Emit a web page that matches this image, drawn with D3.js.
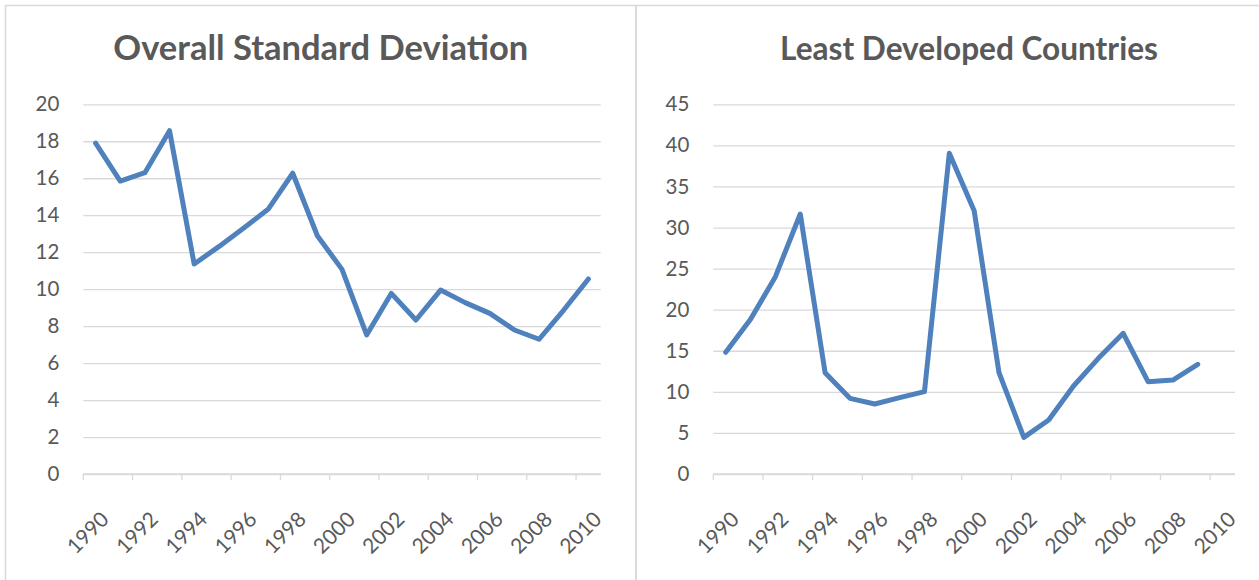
<!DOCTYPE html>
<html>
<head>
<meta charset="utf-8">
<script src="https://cdn.jsdelivr.net/npm/d3@7"></script>
<style>
  html, body { margin: 0; padding: 0; background: #ffffff; }
  svg { display: block; }
  text { font-family: Lato, "Open Sans", sans-serif; fill: #595959; }
</style>
</head>
<body>
<svg id="chart" width="1259" height="580"></svg>
<script>
// ---- data ----
const years = ["1990","1991","1992","1993","1994","1995","1996","1997","1998","1999","2000",
               "2001","2002","2003","2004","2005","2006","2007","2008","2009","2010"];
const yearLabels = ["1990","1992","1994","1996","1998","2000","2002","2004","2006","2008","2010"];

const overallTitle = "Overall Standard Deviation";
const overallValues = [17.9, 15.85, 16.3, 18.57, 11.36, 12.3, 13.3, 14.32, 16.27, 12.89, 11.07,
                       7.52, 9.77, 8.33, 9.95, 9.27, 8.69, 7.79, 7.29, 8.87, 10.55];
const overallTicks = [0, 2, 4, 6, 8, 10, 12, 14, 16, 18, 20];

const ldcTitle = "Least Developed Countries";
const ldcValues = [14.81, 18.83, 24.02, 31.65, 12.33, 9.21, 8.52, 9.29, 10.02, 39.03, 32.05,
                   12.33, 4.46, 6.57, 10.71, 14.08, 17.12, 11.24, 11.44, 13.35, null];
const ldcTicks = [0, 5, 10, 15, 20, 25, 30, 35, 40, 45];

// ---- layout ----
const svg = d3.select("#chart");
const gridColor = "#d9d9d9";
const lineColor = "#4f81bd";

// chart frames
svg.append("rect").attr("x", 5.5).attr("y", 5.5).attr("width", 630.5).attr("height", 600)
  .attr("fill", "none").attr("stroke", gridColor).attr("stroke-width", 1.5);
svg.append("rect").attr("x", 636).attr("y", 5.5).attr("width", 660).attr("height", 600)
  .attr("fill", "none").attr("stroke", gridColor).attr("stroke-width", 1.5);

function panel(opts) {
  const { title, values, ticks, x0, x1, titleX, titleW } = opts;
  const yTop = 104.3, yBot = 474;
  const g = svg.append("g");

  const x = d3.scaleBand().domain(years).range([x0, x1]).padding(0);
  const y = d3.scaleLinear().domain([ticks[0], ticks[ticks.length - 1]]).range([yBot, yTop]);

  // gridlines
  const grid = g.append("g").attr("transform", `translate(${x0},0)`)
    .call(d3.axisLeft(y).tickValues(ticks).tickSize(-(x1 - x0)).tickFormat(""));
  grid.select(".domain").remove();
  grid.selectAll("line").attr("stroke", gridColor).attr("stroke-width", 1.3);

  // y labels
  const ya = g.append("g").attr("transform", `translate(${x0},0)`)
    .call(d3.axisLeft(y).tickValues(ticks).tickSize(0).tickPadding(24));
  ya.select(".domain").remove();
  ya.selectAll("text").attr("font-size", 20.5).attr("fill", "#595959")
    .style("font-family", "Lato, sans-serif");

  // x axis line + ticks
  g.append("line").attr("x1", x0).attr("x2", x1).attr("y1", yBot).attr("y2", yBot)
    .attr("stroke", gridColor).attr("stroke-width", 1.5);
  g.selectAll(".xt").data(yearLabels).enter().append("line")
    .attr("x1", d => x(d)).attr("x2", d => x(d))
    .attr("y1", yBot).attr("y2", yBot + 6)
    .attr("stroke", gridColor).attr("stroke-width", 1.3);

  // x labels
  g.selectAll(".xl").data(yearLabels).enter().append("text")
    .attr("transform", d => `translate(${x(d) + x.bandwidth() / 2 + 4},${yBot + 36}) rotate(-45)`)
    .attr("text-anchor", "end")
    .attr("dy", "0.71em")
    .attr("font-size", 21)
    .text(d => d);

  // line
  const pts = years.map((yr, i) => ({ yr, v: values[i] }));
  const line = d3.line()
    .defined(d => d.v != null)
    .x(d => x(d.yr) + x.bandwidth() / 2)
    .y(d => y(d.v));
  g.append("path").datum(pts)
    .attr("d", line)
    .attr("fill", "none")
    .attr("stroke", lineColor)
    .attr("stroke-width", 5)
    .attr("stroke-linejoin", "round")
    .attr("stroke-linecap", "round");

  // title
  const t = g.append("text")
    .attr("x", titleX).attr("y", 60)
    .attr("text-anchor", "middle")
    .attr("font-weight", "bold")
    .attr("font-size", 28)
    .text(title);
  const len = t.node().getComputedTextLength();
  t.attr("font-size", 28 * titleW / len);
}

panel({ title: overallTitle, values: overallValues, ticks: overallTicks,
        x0: 83.3, x1: 600.7, titleX: 320.8, titleW: 415 });
panel({ title: ldcTitle, values: ldcValues, ticks: ldcTicks,
        x0: 713.3, x1: 1235, titleX: 969, titleW: 378 });
</script>
</body>
</html>
